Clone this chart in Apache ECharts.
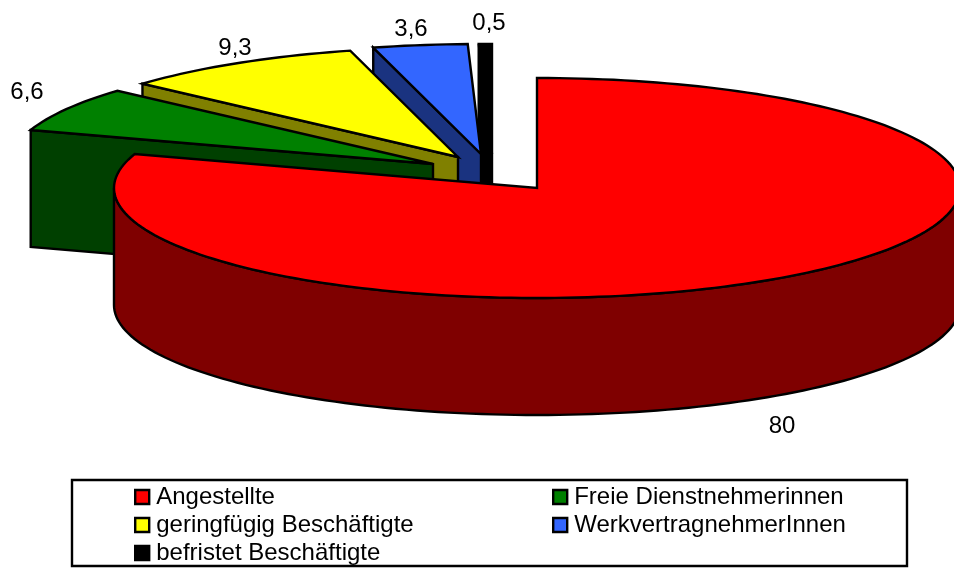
<!DOCTYPE html>
<html>
<head>
<meta charset="utf-8">
<title>Beschäftigte</title>
<style>
  html, body { margin: 0; padding: 0; background: #fff; }
  #dom { width: 954px; height: 568px; }
</style>
<script src="https://cdn.jsdelivr.net/npm/echarts@6/dist/echarts.min.js"></script>
</head>
<body>
<div id="dom"></div>
<script>
const categories = ['Angestellte', 'Freie Dienstnehmerinnen', 'geringfügig Beschäftigte', 'WerkvertragnehmerInnen', 'befristet Beschäftigte']
const values = [80, 6.6, 9.3, 3.6, 0.5]

const topColors = ['#ff0000', '#008000', '#ffff00', '#3366ff', '#000000']
const wallColors = ['#7f0000', '#004000', '#808000', '#1a3380', '#000000']

// pie geometry, as the spreadsheet drew it
const cx = 537
const cy = 188
const rx = 423
const ry = 110
const depth = 117
const explode = [[0, 0], [-104, -24], [-79, -31], [-56, -34], [-45, -34]]
const labelPos = [[782, 426], [27, 92], [235, 48], [411, 29], [489, 23]]
const legendPos = [[134, 485], [552, 485], [134, 513], [552, 513], [134, 541]]
const font = '"Liberation Sans", Arial, sans-serif'

const total = values.reduce((a, b) => a + b, 0)
let acc = 0
const starts = values.map(v => {
  let s = acc
  acc += v
  return s
})

function rim (deg, off, drop) {
  let a = deg * Math.PI / 180
  return [cx + off[0] + rx * Math.sin(a), cy + off[1] + ry * -Math.cos(a) + drop]
}

function arcPoints (from, to, off, drop) {
  let pts = []
  let n = Math.max(2, Math.ceil((to - from) / 1.5))
  for (let i = 0; i <= n; i++) {
    pts.push(rim(from + (to - from) * i / n, off, drop))
  }
  return pts
}

function poly (points, fill) {
  return {
    type: 'polygon',
    shape: { points: points },
    style: { fill: fill, stroke: '#000', lineWidth: 2.4, lineJoin: 'miter' }
  }
}

function renderSlice (idx) {
  return function (params, api) {
    let value = api.value(0)
    let from = api.value(1) / total * 360
    let to = from + value / total * 360
    let off = explode[idx]
    let apex = [cx + off[0], cy + off[1]]
    let children = []

    // outer wall, only the part turned towards the viewer
    let a = Math.max(from, 90)
    let b = Math.min(to, 270)
    if (b > a) {
      let upper = arcPoints(a, b, off, 0)
      let lower = arcPoints(a, b, off, depth).reverse()
      children.push(poly(upper.concat(lower), wallColors[idx]))
    }
    // cut face on the left side of an exploded slice
    if (from > 180) {
      let p = rim(from, off, 0)
      children.push(poly([p, apex, [apex[0], apex[1] + depth], [p[0], p[1] + depth]], wallColors[idx]))
    }
    children.push(poly([apex].concat(arcPoints(from, to, off, 0)), topColors[idx]))
    children.push({
      type: 'text',
      style: {
        text: String(value).replace('.', ','),
        x: labelPos[idx][0],
        y: labelPos[idx][1],
        fill: '#000',
        font: '24px ' + font,
        textAlign: 'center',
        textVerticalAlign: 'middle'
      }
    })
    return { type: 'group', children: children }
  }
}

// back slices first, the big red one goes on top
const series = categories.map((name, i) => ({
  type: 'custom',
  name: name,
  coordinateSystem: 'none',
  silent: true,
  animation: false,
  itemStyle: { color: topColors[i] },
  renderItem: renderSlice(i),
  data: [[values[i], starts[i]]]
})).reverse()

const legend = categories.map((name, i) => ({
  data: [name],
  left: legendPos[i][0],
  top: legendPos[i][1],
  padding: 0,
  itemWidth: 14,
  itemHeight: 14,
  itemGap: 0,
  icon: 'rect',
  selectedMode: false,
  itemStyle: { borderColor: '#000', borderWidth: 2.4 },
  textStyle: { color: '#000', fontFamily: font, fontSize: 24, padding: [0, 0, 0, 2] }
}))

const chart = echarts.init(document.getElementById('dom'), null, { renderer: 'canvas' })
chart.setOption({
  backgroundColor: '#fff',
  animation: false,
  tooltip: { show: false },
  legend: legend,
  graphic: [{
    type: 'rect',
    silent: true,
    shape: { x: 72, y: 480, width: 835, height: 86 },
    style: { fill: 'transparent', stroke: '#000', lineWidth: 2.4 }
  }],
  series: series
})
</script>
</body>
</html>
